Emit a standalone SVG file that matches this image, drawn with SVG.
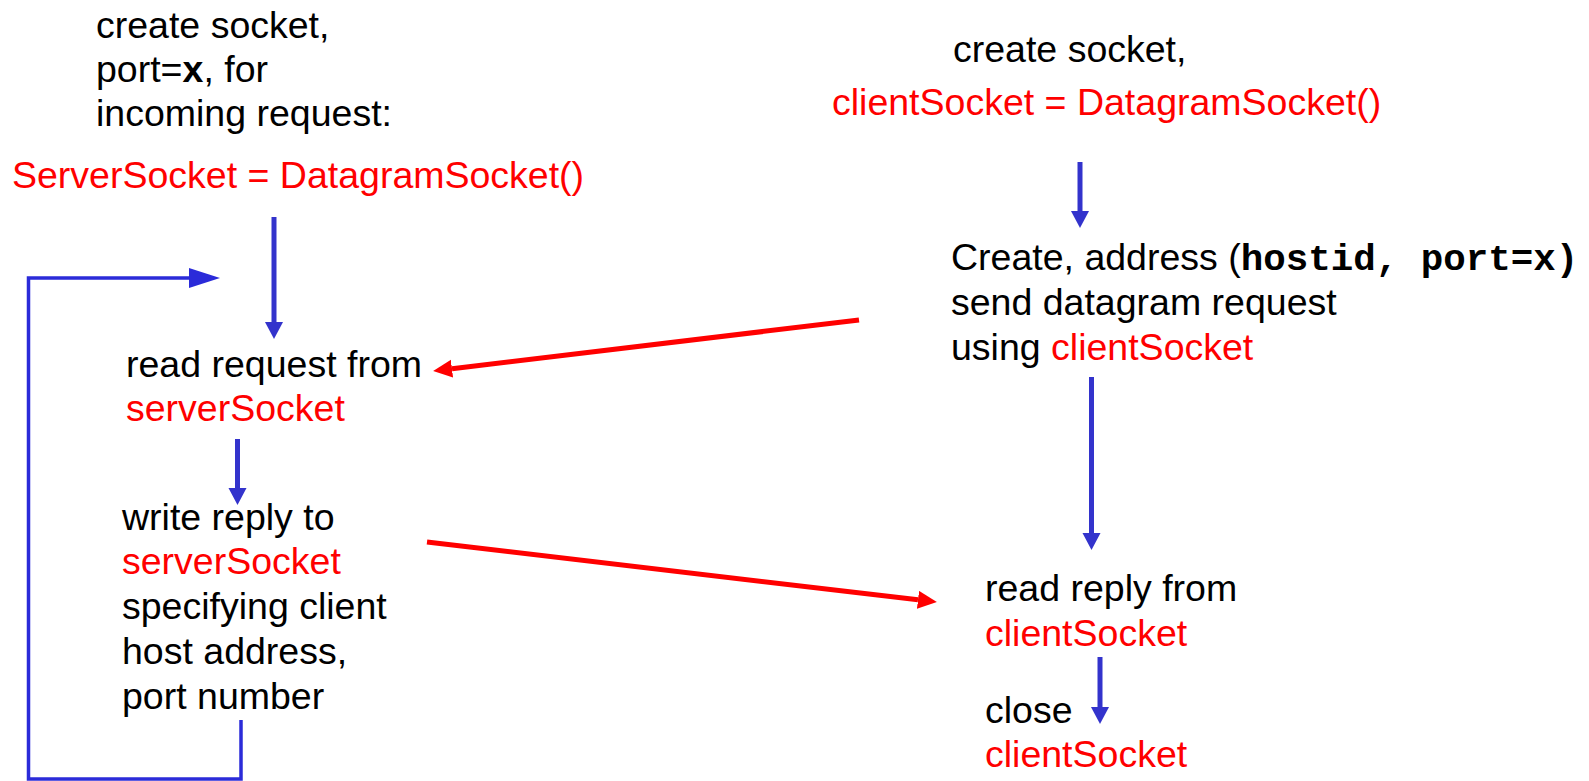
<svg xmlns="http://www.w3.org/2000/svg" width="1589" height="781" viewBox="0 0 1589 781">
<style>
  text { font-family: "Liberation Sans", Arial, sans-serif; font-size: 37.5px; fill: #000; }
  .red { fill: #ff0000; }
  .mono { font-family: "Liberation Mono", "Courier New", monospace; font-weight: bold; }
  .b { font-weight: bold; }
  .blue { stroke: #3333cc; stroke-width: 5; fill: none; }
  .loop { stroke: #2b2bd9; stroke-width: 3.5; fill: none; }
  .redl { stroke: #ff0000; stroke-width: 5; fill: none; }
</style>
<defs>
  <marker id="hb" markerUnits="userSpaceOnUse" markerWidth="20" markerHeight="20" refX="0" refY="9" orient="auto">
    <path d="M0,0 L17,9 L0,18 z" fill="#3333cc"/>
  </marker>
  <marker id="hl" markerUnits="userSpaceOnUse" markerWidth="32" markerHeight="22" refX="0" refY="10" orient="auto">
    <path d="M0,0 L31,10 L0,20 z" fill="#2b2bd9"/>
  </marker>
  <marker id="hr" markerUnits="userSpaceOnUse" markerWidth="20" markerHeight="20" refX="0" refY="9" orient="auto">
    <path d="M0,0 L19,9 L0,18 z" fill="#ff0000"/>
  </marker>
</defs>

<g id="server-create">
  <text x="96" y="38">create socket,</text>
  <text x="96" y="82">port=<tspan class="b">x</tspan>, for</text>
  <text x="96" y="126">incoming request:</text>
  <text x="12" y="188" class="red">ServerSocket = DatagramSocket()</text>
</g>

<g id="server-read">
  <text x="126" y="377">read request from</text>
  <text x="126" y="421" class="red">serverSocket</text>
</g>

<g id="server-write">
  <text x="122" y="530">write reply to</text>
  <text x="122" y="574" class="red">serverSocket</text>
  <text x="122" y="619">specifying client</text>
  <text x="122" y="664">host address,</text>
  <text x="122" y="709">port number</text>
</g>

<g id="client-create">
  <text x="953" y="62">create socket,</text>
  <text x="832" y="115" class="red">clientSocket = DatagramSocket()</text>
</g>

<g id="client-send">
  <text x="951" y="270">Create, address (<tspan class="mono">hostid, port=x)</tspan></text>
  <text x="951" y="315">send datagram request</text>
  <text x="951" y="360">using <tspan class="red">clientSocket</tspan></text>
</g>

<g id="client-read">
  <text x="985" y="601">read reply from</text>
  <text x="985" y="646" class="red">clientSocket</text>
</g>

<g id="client-close">
  <text x="985" y="723">close</text>
  <text x="985" y="767" class="red">clientSocket</text>
</g>

<g id="connectors">
  <line class="blue" x1="274" y1="217" x2="274" y2="322" marker-end="url(#hb)"/>
  <polyline class="loop" points="241,720 241,779 28.5,779 28.5,278 189,278" marker-end="url(#hl)"/>
  <line class="blue" x1="237.5" y1="439" x2="237.5" y2="488" marker-end="url(#hb)"/>
  <line class="blue" x1="1080" y1="162" x2="1080" y2="211" marker-end="url(#hb)"/>
  <line class="blue" x1="1091.5" y1="377" x2="1091.5" y2="533" marker-end="url(#hb)"/>
  <line class="blue" x1="1100" y1="657" x2="1100" y2="707" marker-end="url(#hb)"/>
  <line class="redl" x1="859" y1="320" x2="452" y2="368.7" marker-end="url(#hr)"/>
  <line class="redl" x1="427" y1="542" x2="918" y2="599.8" marker-end="url(#hr)"/>
</g>
</svg>
